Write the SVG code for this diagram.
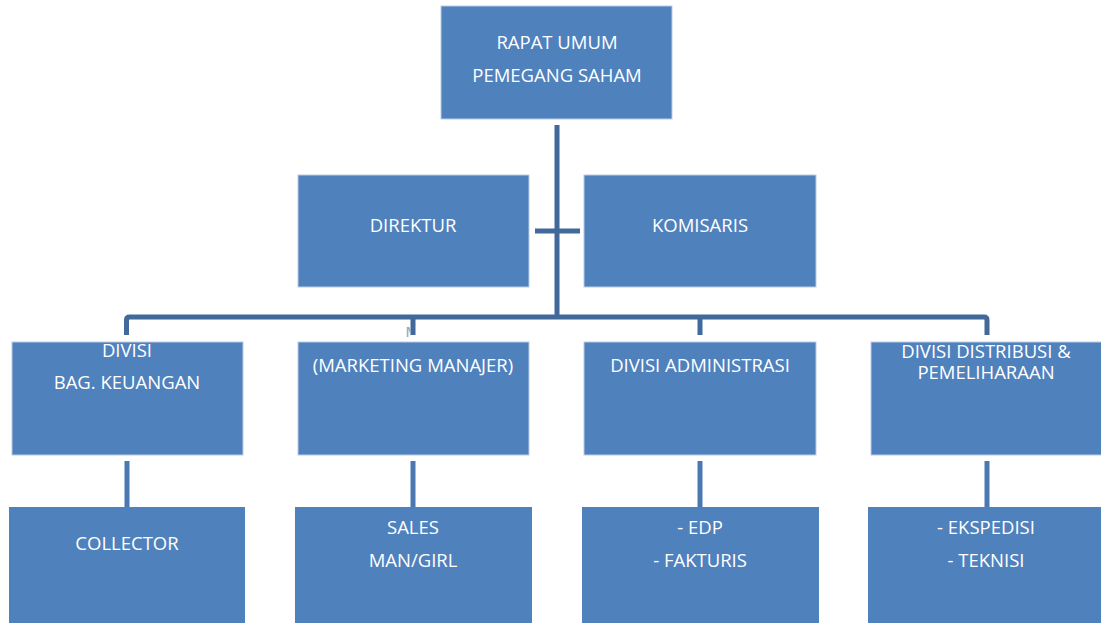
<svg xmlns="http://www.w3.org/2000/svg" width="1101" height="623" viewBox="0 0 1101 623">
<style>
.box{fill:#4f81bd;stroke:#b9cce4;stroke-width:1}
.t{font-family:"Open Sans","Noto Sans",sans-serif;font-size:18.5px;fill:#ffffff;text-anchor:middle}
.c{stroke:#41699b;stroke-width:5;fill:none}
.c2{stroke:#4a78b0;stroke-width:5;fill:none}
</style>
<defs>
<clipPath id="frag"><rect x="404" y="323" width="7" height="14"/></clipPath>
</defs>
<g id="connectors">
<line class="c" x1="557" y1="125" x2="557" y2="317"/>
<line class="c" x1="535" y1="231" x2="580" y2="231"/>
<path class="c" d="M126.5 335 V320 Q126.5 317 129.5 317 H984 Q987 317 987 320 V335"/>
<line class="c" x1="413" y1="317" x2="413" y2="335"/>
<line class="c" x1="700" y1="317" x2="700" y2="335"/>
<line class="c2" x1="127" y1="461" x2="127" y2="507"/>
<line class="c2" x1="413" y1="461" x2="413" y2="507"/>
<line class="c2" x1="700" y1="461" x2="700" y2="507"/>
<line class="c2" x1="987" y1="461" x2="987" y2="507"/>
</g>
<g id="frag-text" clip-path="url(#frag)"><text x="405" y="340" style="font-family:'Open Sans',sans-serif;font-size:18.5px;fill:#93a9c8">M</text></g>
<g id="rups"><rect class="box" x="441" y="6" width="231" height="113"/><text class="t" x="557" y="49">RAPAT UMUM</text><text class="t" x="557" y="82">PEMEGANG SAHAM</text></g>
<g id="direktur"><rect class="box" x="298" y="175" width="231" height="112"/><text class="t" x="413" y="232">DIREKTUR</text></g>
<g id="komisaris"><rect class="box" x="584" y="175" width="232" height="112"/><text class="t" x="700" y="232">KOMISARIS</text></g>
<g id="keuangan"><rect class="box" x="12" y="342" width="231" height="113"/><text class="t" x="127" y="357">DIVISI</text><text class="t" x="127" y="389">BAG. KEUANGAN</text></g>
<g id="marketing"><rect class="box" x="298" y="342" width="231" height="113"/><text class="t" x="413" y="372">(MARKETING MANAJER)</text></g>
<g id="administrasi"><rect class="box" x="584" y="342" width="232" height="113"/><text class="t" x="700" y="372">DIVISI ADMINISTRASI</text></g>
<g id="distribusi"><rect class="box" x="871" y="342" width="235" height="113"/><text class="t" x="986" y="358">DIVISI DISTRIBUSI &amp;</text><text class="t" x="986" y="379">PEMELIHARAAN</text></g>
<g id="collector"><rect class="box" x="9" y="507" width="236" height="120" style="stroke:none"/><text class="t" x="127" y="550">COLLECTOR</text></g>
<g id="sales"><rect class="box" x="295" y="507" width="237" height="120" style="stroke:none"/><text class="t" x="413" y="534">SALES</text><text class="t" x="413" y="567">MAN/GIRL</text></g>
<g id="edp"><rect class="box" x="582" y="507" width="237" height="120" style="stroke:none"/><text class="t" x="700" y="534">- EDP</text><text class="t" x="700" y="567">- FAKTURIS</text></g>
<g id="ekspedisi"><rect class="box" x="868" y="507" width="240" height="120" style="stroke:none"/><text class="t" x="986" y="534">- EKSPEDISI</text><text class="t" x="986" y="567">- TEKNISI</text></g>
</svg>
